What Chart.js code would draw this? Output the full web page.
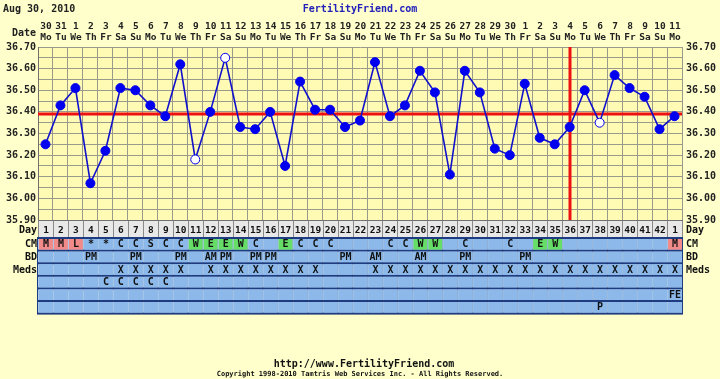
<!DOCTYPE html>
<html><head><meta charset="utf-8">
<script src="https://cdn.jsdelivr.net/npm/chart.js@4/dist/chart.umd.min.js"></script>
<style>html,body{margin:0;padding:0;background:#ffffcc;}canvas{display:block;}</style>
</head><body>
<canvas id="c" width="720" height="379"></canvas>
<script>
const chartDate = 'Aug 30, 2010';
const dates = [30,31,1,2,3,4,5,6,7,8,9,10,11,12,13,14,15,16,17,18,19,20,21,22,23,24,25,26,27,28,29,30,1,2,3,4,5,6,7,8,9,10,11];
const weekdays = ['Mo','Tu','We','Th','Fr','Sa','Su','Mo','Tu','We','Th','Fr','Sa','Su','Mo','Tu','We','Th','Fr','Sa','Su','Mo','Tu','We','Th','Fr','Sa','Su','Mo','Tu','We','Th','Fr','Sa','Su','Mo','Tu','We','Th','Fr','Sa','Su','Mo'];
const cycleDays = ['1','2','3','4','5','6','7','8','9','10','11','12','13','14','15','16','17','18','19','20','21','22','23','24','25','26','27','28','29','30','31','32','33','34','35','36','37','38','39','40','41','42','1'];
const temps = [36.25,36.43,36.51,36.07,36.22,36.51,36.50,36.43,36.38,36.62,36.18,36.40,36.65,36.33,36.32,36.40,36.15,36.54,36.41,36.41,36.33,36.36,36.63,36.38,36.43,36.59,36.49,36.11,36.59,36.49,36.23,36.20,36.53,36.28,36.25,36.33,36.50,36.35,36.57,36.51,36.47,36.32,36.38];
const openPoints = [11,13,38];
const coverline = 36.39;
const ovulationDay = 36;
const yTicks = [36.70,36.60,36.50,36.40,36.30,36.20,36.10,36.00,35.90];
const cm   = ['M','M','L','*','*','C','C','S','C','C','W','E','E','W','C','','E','C','C','C','','','','C','C','W','W','','C','','','C','','E','W','','','','','','','','M'];
const bd   = ['','','','PM','','','PM','','','PM','','AM','PM','','PM','PM','','','','','PM','','AM','','','AM','','','PM','','','','PM','','','','','','','','','',''];
const meds = ['','','','','','X','X','X','X','X','','X','X','X','X','X','X','X','X','','','','X','X','X','X','X','X','X','X','X','X','X','X','X','X','X','X','X','X','X','X','X'];
const meds2= ['','','','','C','C','C','C','C','','','','','','','','','','','','','','','','','','','','','','','','','','','','','','','','','',''];
const row6 = ['','','','','','','','','','','','','','','','','','','','','','','','','','','','','','','','','','','','','','','','','','','FE'];
const row7 = ['','','','','','','','','','','','','','','','','','','','','','','','','','','','','','','','','','','','','','P','','','','',''];
const tableRows = [{label:'CM', vals:cm},{label:'BD', vals:bd},{label:'Meds', vals:meds},{label:'', vals:meds2},{label:'', vals:row6},{label:'', vals:row7}];

const FONT = 'bold 10px "DejaVu Sans Mono"';
const COLFONT = 'bold 9.5px "DejaVu Sans Mono"';
const ptFill = temps.map((t,i)=> openPoints.includes(i+1) ? '#ffffff' : '#0000ee');

const decor = {
  id:'decor',
  beforeDraw(chart){
    const {ctx, chartArea:a} = chart;
    ctx.save();
    ctx.fillStyle = '#ffffcc';
    ctx.fillRect(0,0,chart.width,chart.height);
    ctx.fillStyle = '#fffbb4';
    ctx.fillRect(a.left,a.top,a.right-a.left,a.bottom-a.top);
    ctx.restore();
  },
  beforeDatasetsDraw(chart){
    const {ctx, chartArea:a, scales:{x,y}} = chart;
    ctx.save();
    ctx.strokeStyle = '#ee1111';
    ctx.lineWidth = 3;
    const cy = Math.round(y.getPixelForValue(coverline));
    ctx.beginPath(); ctx.moveTo(a.left,cy); ctx.lineTo(a.right,cy); ctx.stroke();
    const vx = Math.round(x.getPixelForValue(ovulationDay-1));
    ctx.beginPath(); ctx.moveTo(vx,a.top); ctx.lineTo(vx,a.bottom); ctx.stroke();
    ctx.restore();
  },
  afterDraw(chart){
    const {ctx, chartArea:a, scales:{x,y}} = chart;
    const n = cycleDays.length;
    const colW = (a.right-a.left)/n;
    ctx.save();
    ctx.font = FONT;
    ctx.textBaseline = 'middle';
    // header
    ctx.fillStyle = '#222';
    ctx.textAlign = 'left';
    ctx.fillText(chartDate, 3, 9);
    ctx.fillStyle = '#2222bb';
    ctx.textAlign = 'center';
    ctx.fillText('FertilityFriend.com', 360, 9);
    ctx.fillStyle = '#222';
    ctx.textAlign = 'right';
    ctx.fillText('Date', 36, 33);
    ctx.textAlign = 'center';
    ctx.font = COLFONT;
    for(let i=0;i<n;i++){
      const cx = x.getPixelForValue(i);
      ctx.fillText(String(dates[i]), cx+0.5, 27);
      ctx.fillText(weekdays[i], cx+0.5, 38);
    }
    ctx.font = FONT;
    // y tick labels
    yTicks.forEach(v=>{
      const py = y.getPixelForValue(v);
      ctx.textAlign='right'; ctx.fillText(v.toFixed(2), 36, py);
      ctx.textAlign='left'; ctx.fillText(v.toFixed(2), 686, py);
    });
    // Day row
    const dayTop = a.bottom+1, dayH = 17;
    ctx.fillStyle = '#e8e8e8';
    ctx.fillRect(a.left, dayTop, a.right-a.left, dayH);
    ctx.strokeStyle = '#8a8a8a'; ctx.lineWidth = 1;
    for(let i=0;i<=n;i++){
      const lx = Math.round(a.left + i*colW)+0.5;
      ctx.beginPath(); ctx.moveTo(lx,dayTop); ctx.lineTo(lx,dayTop+dayH); ctx.stroke();
    }
    ctx.fillStyle = '#111';
    ctx.textAlign='right'; ctx.fillText('Day', 37, dayTop+dayH/2+1);
    ctx.textAlign='left'; ctx.fillText('Day', 686, dayTop+dayH/2+1);
    ctx.font = COLFONT;
    ctx.textAlign='center';
    for(let i=0;i<n;i++) ctx.fillText(cycleDays[i], x.getPixelForValue(i)+0.5, dayTop+dayH/2+1);
    ctx.font = FONT;
    // table rows
    const rowTop = dayTop+dayH, rowH = 12.6;
    const tableBottom = rowTop + rowH*tableRows.length;
    ctx.fillStyle = '#203c80';
    ctx.fillRect(a.left-1, rowTop-1, a.right-a.left+2, tableBottom-rowTop+2);
    tableRows.forEach((r,ri)=>{
      const ty = rowTop + ri*rowH;
      for(let i=0;i<n;i++){
        const lx = a.left + i*colW;
        let fill = '#8cb9ea';
        const v = r.vals[i];
        if(r.label==='CM'){
          if(v==='M'||v==='L') fill='#f28a8a';
          else if(v==='W'||v==='E') fill='#66dd66';
        }
        ctx.fillStyle = '#a9c7e6';
        ctx.fillRect(lx, ty+1, colW, rowH-2);
        ctx.fillStyle = fill;
        ctx.fillRect(lx+1, ty+1, colW-1, rowH-2);
        if(v){
          ctx.fillStyle='#111'; ctx.textAlign='center';
          ctx.fillText(v, x.getPixelForValue(i)+0.5, ty+rowH/2+0.5);
        }
      }
      if(r.label){
        ctx.fillStyle='#111';
        ctx.textAlign='right'; ctx.fillText(r.label, 37, ty+rowH/2+0.5);
        ctx.textAlign='left'; ctx.fillText(r.label, 686, ty+rowH/2+0.5);
      }
    });
    // footer
    ctx.fillStyle='#111'; ctx.textAlign='center';
    ctx.font = 'bold 10px "DejaVu Sans Mono"';
    ctx.fillText('http://www.FertilityFriend.com', 364, 364);
    ctx.font = 'bold 7px "DejaVu Sans Mono"';
    ctx.fillText('Copyright 1998-2010 Tamtris Web Services Inc. - All Rights Reserved.', 360, 374);
    ctx.restore();
  }
};

new Chart(document.getElementById('c'), {
  type:'line',
  data:{ labels: cycleDays, datasets:[{
    data: temps,
    borderColor:'#1111cc', borderWidth:1.6,
    pointRadius:4.5, pointBorderWidth:1,
    pointBackgroundColor: ptFill, pointBorderColor:'#0000ee',
    tension:0, clip:false
  }]},
  options:{
    responsive:false, animation:false, devicePixelRatio:1,
    layout:{ padding:{left:38, top:47, right:38, bottom:159} },
    plugins:{ legend:{display:false}, tooltip:{enabled:false}, title:{display:false} },
    scales:{
      x:{ type:'category', offset:true,
          grid:{ color:'#9a9a8c', lineWidth:1, drawTicks:false, offset:true },
          border:{ display:true, color:'#707070' },
          ticks:{ display:false },
          afterFit(s){ s.height = 0; } },
      y:{ min:35.9, max:36.7,
          grid:{ color:'#9a9a8c', lineWidth:1, drawTicks:false },
          border:{ display:true, color:'#707070' },
          ticks:{ display:false, stepSize:0.05 },
          afterFit(s){ s.width = 0; } }
    }
  },
  plugins:[decor]
});
</script>
</body></html>
